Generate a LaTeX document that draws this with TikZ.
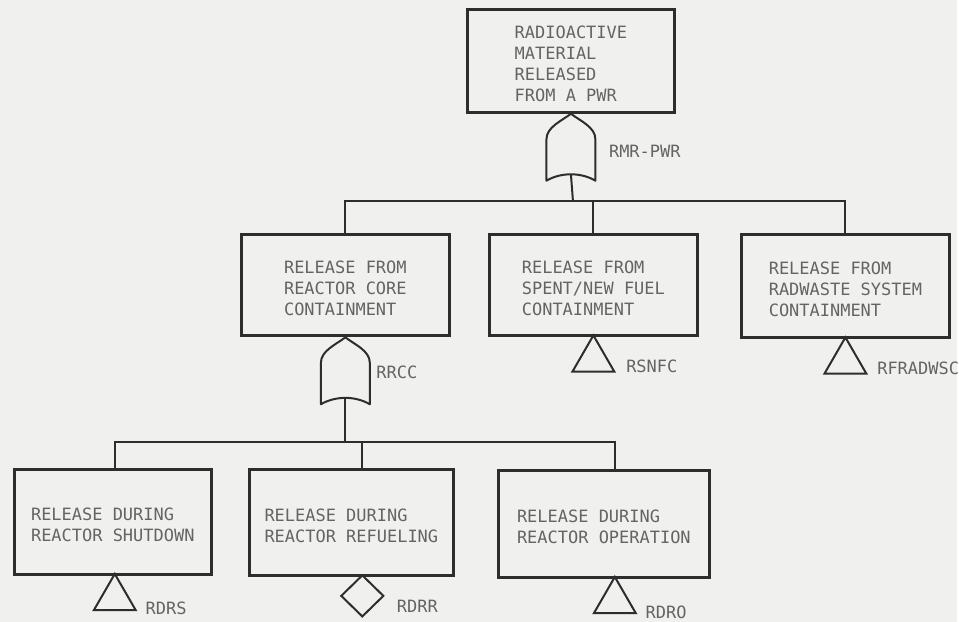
\documentclass[tikz,border=0pt]{standalone}
\usepackage{fontspec}
\setmonofont{DejaVu Sans Mono}
\usetikzlibrary{shapes.geometric,positioning}
\definecolor{paper}{RGB}{240,240,238}
\definecolor{ink}{RGB}{45,45,45}
\definecolor{typeink}{RGB}{100,100,100}
\newcommand{\plotfont}{\ttfamily\fontsize{17}{21}\selectfont}
\newcommand{\dropline}{\rule{0pt}{19pt}}
\tikzset{
  event/.style={draw=ink, line width=3pt, align=left, font=\plotfont, text=typeink, inner sep=0pt},
  wire/.style={draw=ink, line width=2pt},
  orgate/.style={minimum width=53pt, minimum height=71pt, inner sep=0pt, outer sep=0pt,
    path picture={
      \draw[ink, line width=2pt, line join=round, shift={(path picture bounding box.center)}]
        (0,-33.5) .. controls (-10,-26) and (-24.5,-20) .. (-24.5,-8)
        -- (-24.5,33.5) .. controls (-10,25) and (10,25) .. (24.5,33.5)
        -- (24.5,-8) .. controls (24.5,-20) and (10,-26) .. (0,-33.5) -- cycle;
    }},
  basicev/.style={draw=ink, line width=2pt, regular polygon, regular polygon sides=3, minimum size=48.5pt, inner sep=0pt, anchor=corner 1, yshift=4pt},
  undevev/.style={draw=ink, line width=2pt, diamond, aspect=1, minimum width=43pt, minimum height=42pt, inner sep=0pt},
  gatelbl/.style={font=\plotfont, text=typeink, inner sep=0pt}
}
\begin{document}
\begin{tikzpicture}[x=1pt, y=-1pt]
  \fill[paper] (0,0) rectangle (959,623);
  % top event
  \node[event, minimum width=207pt, minimum height=103pt] (top) at (572,61) {\dropline RADIOACTIVE\\MATERIAL\\RELEASED\\FROM A PWR};
  \node[orgate, below=-2pt of top] (g1) {};
  \node[gatelbl, right=38pt of g1.center, yshift=-4.5pt] (g1lbl) {RMR-PWR};
  % second level
  \node[event, minimum width=209pt, minimum height=102pt] (core) at (346,285.5) {\dropline RELEASE FROM\\REACTOR CORE\\CONTAINMENT};
  \node[event, minimum width=208pt, minimum height=102pt] (fuel) at (594.5,285.5) {\dropline RELEASE FROM\\SPENT/NEW FUEL\\CONTAINMENT};
  \node[event, minimum width=209pt, minimum height=104pt] (radw) at (847,286.5) {\dropline RELEASE FROM\\RADWASTE SYSTEM\\CONTAINMENT};
  \node[orgate, below=-2pt of core] (g2) {};
  \node[gatelbl, right=31pt of g2.center, yshift=-1.5pt] (g2lbl) {RRCC};
  \node[basicev] (t1) at (fuel.south) {};
  \node[gatelbl, right=10pt of t1.corner 3, yshift=6pt] (t1lbl) {RSNFC};
  \node[basicev] (t2) at (radw.south) {};
  \node[gatelbl, right=9pt of t2.corner 3, yshift=6pt] (t2lbl) {RFRADWSC};
  % third level
  \node[event, minimum width=197pt, minimum height=105pt] (shut) at (113,523) {\dropline RELEASE DURING\\REACTOR SHUTDOWN};
  \node[event, minimum width=205pt, minimum height=106pt] (refu) at (352,523.5) {\dropline RELEASE DURING\\REACTOR REFUELING};
  \node[event, minimum width=211pt, minimum height=107pt] (oper) at (605,525) {\dropline RELEASE DURING\\REACTOR OPERATION};
  \node[basicev] (t3) at ([xshift=2pt]shut.south) {};
  \node[gatelbl, right=8pt of t3.corner 3, yshift=3pt] (t3lbl) {RDRS};
  \node[undevev, below=-3pt of refu, xshift=11pt] (d1) {};
  \node[gatelbl, right=12pt of d1.east, yshift=-10pt] (d1lbl) {RDRR};
  \node[basicev] (t4) at ([xshift=11pt]oper.south) {};
  \node[gatelbl, right=8pt of t4.corner 3, yshift=2pt] (t4lbl) {RDRO};
  % connectors
  \coordinate (bar1) at (574,201);
  \coordinate (bar2) at (346,443);
  \coordinate (refuin) at ([xshift=11pt]refu.north);
  \coordinate (operin) at ([xshift=11pt]oper.north);
  \draw[wire] ([yshift=8.4pt]g1.south) -- (bar1);
  \draw[wire] (core.north) |- (bar1) -| (radw.north);
  \draw[wire] (fuel.north) -- (fuel.north |- bar1);
  \draw[wire] ([yshift=8.4pt]g2.south) -- (bar2);
  \draw[wire] ([xshift=2pt]shut.north) |- (bar2) -| (operin);
  \draw[wire] (refuin) -- (refuin |- bar2);
\end{tikzpicture}
\end{document}
